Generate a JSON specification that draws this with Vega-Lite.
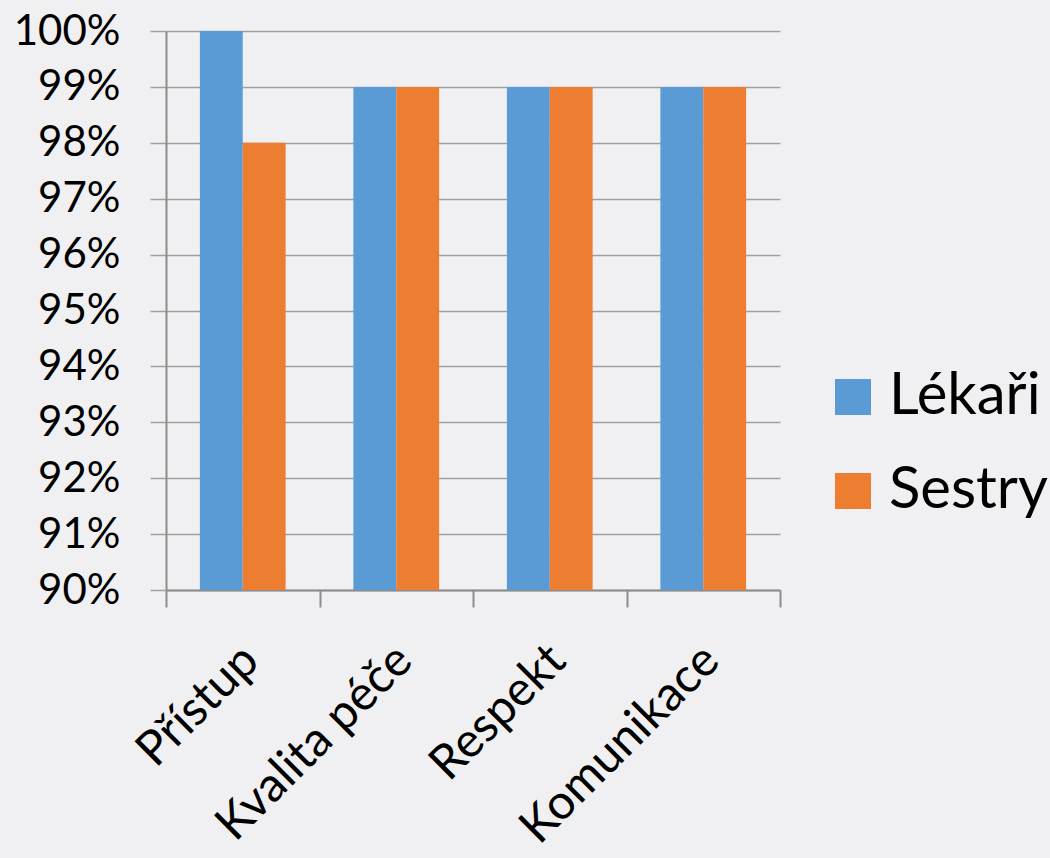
{
  "$schema": "https://vega.github.io/schema/vega-lite/v6.json",
  "autosize": "none",
  "width": 614,
  "height": 559,
  "padding": {"left": 166, "top": 31, "right": 270, "bottom": 268},
  "background": "#f0f0f2",
  "config": {
    "font": "Lato",
    "view": {"stroke": null},
    "axis": {"labelFont": "Lato", "labelColor": "#000000"}
  },
  "data": {
    "values": [
      {"kategorie": "Přístup", "skupina": "Lékaři", "podil": 1.00},
      {"kategorie": "Přístup", "skupina": "Sestry", "podil": 0.98},
      {"kategorie": "Kvalita péče", "skupina": "Lékaři", "podil": 0.99},
      {"kategorie": "Kvalita péče", "skupina": "Sestry", "podil": 0.99},
      {"kategorie": "Respekt", "skupina": "Lékaři", "podil": 0.99},
      {"kategorie": "Respekt", "skupina": "Sestry", "podil": 0.99},
      {"kategorie": "Komunikace", "skupina": "Lékaři", "podil": 0.99},
      {"kategorie": "Komunikace", "skupina": "Sestry", "podil": 0.99}
    ]
  },
  "mark": {"type": "bar"},
  "encoding": {
    "x": {
      "field": "kategorie",
      "type": "nominal",
      "sort": ["Přístup", "Kvalita péče", "Respekt", "Komunikace"],
      "title": null,
      "scale": {"paddingInner": 0, "paddingOuter": 0},
      "axis": {
        "labelAngle": -45,
        "labelFontSize": 48,
        "labelPadding": 46,
        "labelLimit": 0,
        "labelAlign": "right",
        "labelBaseline": "middle",
        "labelOffset": 8,
        "domainColor": "#8c8c8c",
        "domainWidth": 2,
        "tickColor": "#8c8c8c",
        "tickWidth": 2,
        "tickSize": 17,
        "tickBand": "extent",
        "grid": false
      }
    },
    "xOffset": {"field": "skupina", "type": "nominal", "scale": {"paddingInner": 0, "paddingOuter": 0.79}},
    "y": {
      "field": "podil",
      "type": "quantitative",
      "title": null,
      "scale": {"domain": [0.9, 1.0], "zero": false, "nice": false},
      "axis": {
        "format": ".0%",
        "values": [0.9, 0.91, 0.92, 0.93, 0.94, 0.95, 0.96, 0.97, 0.98, 0.99, 1.0],
        "labelFontSize": 42,
        "labelPadding": 30,
        "tickSize": 16,
        "tickColor": "#a0a0a0",
        "tickWidth": 1.5,
        "gridColor": "#a0a0a0",
        "gridWidth": 1.5,
        "domainColor": "#8c8c8c",
        "domainWidth": 2,
        "grid": true
      }
    },
    "y2": {"datum": 0.9},
    "color": {
      "field": "skupina",
      "type": "nominal",
      "scale": {"domain": ["Lékaři", "Sestry"], "range": ["#5B9BD5", "#ED7D31"]},
      "legend": {
        "title": null,
        "orient": "none",
        "legendX": 658,
        "legendY": 337,
        "symbolType": "square",
        "symbolSize": 1296,
        "symbolStrokeWidth": 0,
        "symbolOpacity": 1,
        "labelFontSize": 58,
        "labelFont": "Lato",
        "labelColor": "#000000",
        "labelOffset": 7,
        "rowPadding": 36
      }
    }
  }
}
